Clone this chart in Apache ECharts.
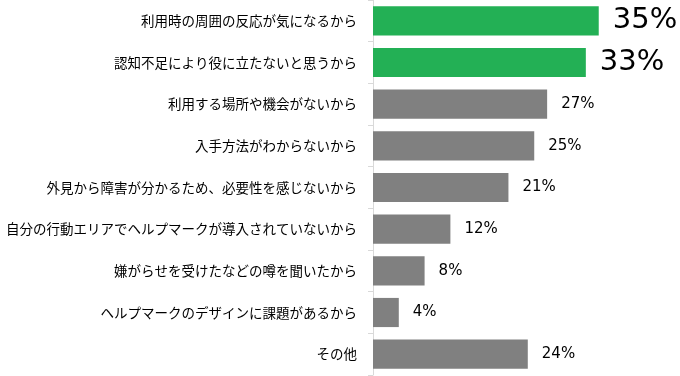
<!DOCTYPE html>
<html>
<head>
<meta charset="utf-8">
<script src="https://cdn.jsdelivr.net/npm/echarts@6/dist/echarts.min.js"></script>
<style>
  html, body { margin: 0; padding: 0; background: #fff; }
  #chart { width: 680px; height: 376px; }
</style>
</head>
<body>
<div id="chart"></div>
<script>
// 項目
var categories = [
  "利用時の周囲の反応が気になるから",
  "認知不足により役に立たないと思うから",
  "利用する場所や機会がないから",
  "入手方法がわからないから",
  "外見から障害が分かるため、必要性を感じないから",
  "自分の行動エリアでヘルプマークが導入されていないから",
  "嫌がらせを受けたなどの噂を聞いたから",
  "ヘルプマークのデザインに課題があるから",
  "その他"
];
// 割合 (%)
var values = [35, 33, 27, 25, 21, 12, 8, 4, 24];
// 強調する項目数（上位）
var topCount = 2;

var chart = echarts.init(document.getElementById("chart"));

var seriesData = values.map(function (v, i) {
  var top = i < topCount;
  return {
    value: v,
    itemStyle: { color: top ? "#23b055" : "#808080" },
    label: {
      fontSize: top ? 29 : 15,
      distance: 14
    }
  };
});

chart.setOption({
  animation: false,
  grid: {
    left: 373,
    right: 0,
    top: 0,
    bottom: 1
  },
  xAxis: {
    type: "value",
    min: 0,
    max: 47.6,
    show: false
  },
  yAxis: {
    type: "category",
    inverse: true,
    data: categories,
    axisLine: {
      show: true,
      lineStyle: { color: "#d9d9d9", width: 1 }
    },
    axisTick: {
      show: true,
      length: 5,
      lineStyle: { color: "#d9d9d9" }
    },
    axisLabel: {
      margin: 16,
      color: "#000",
      fontSize: 13.5,
      fontFamily: "Noto Sans CJK JP"
    }
  },
  series: [
    {
      type: "bar",
      data: seriesData,
      barCategoryGap: "30%",
      label: {
        show: true,
        position: "right",
        color: "#000",
        fontFamily: "DejaVu Sans",
        formatter: "{c}%"
      }
    }
  ]
});
</script>
</body>
</html>
